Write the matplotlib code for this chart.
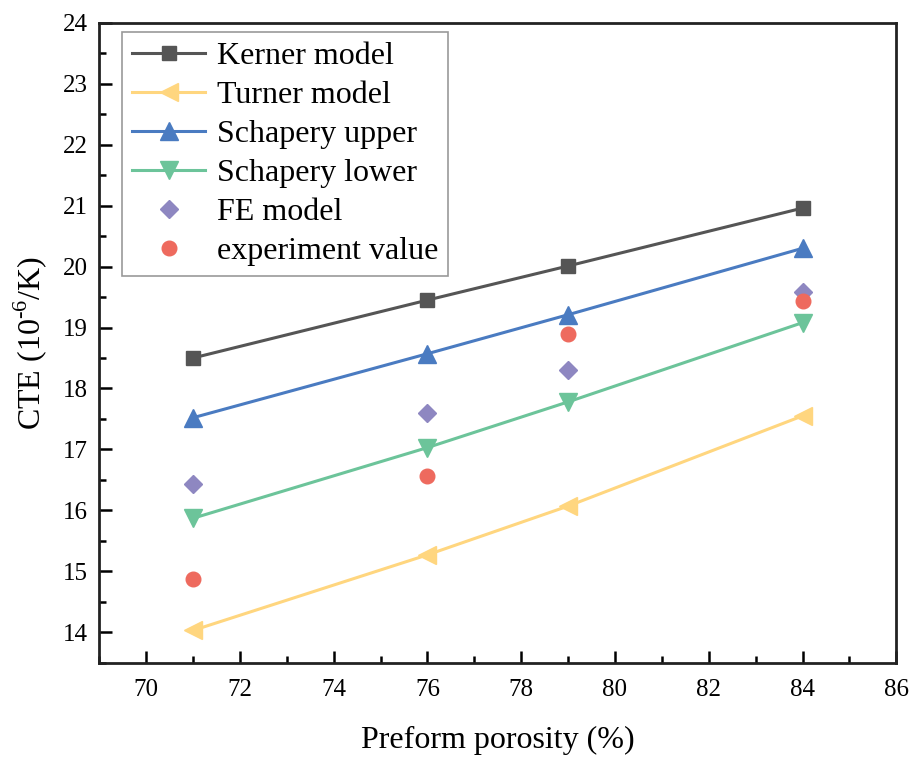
import matplotlib
matplotlib.use('Agg')
import matplotlib.pyplot as plt
from matplotlib.ticker import MultipleLocator

plt.rcParams['font.family'] = ['Liberation Serif', 'DejaVu Serif']
plt.rcParams['mathtext.fontset'] = 'custom'
plt.rcParams['mathtext.rm'] = 'Liberation Serif'

porosity = [71, 76, 79, 84]
kerner = [18.50, 19.45, 20.01, 20.96]
turner = [14.03, 15.27, 16.07, 17.55]
schapery_upper = [17.52, 18.57, 19.21, 20.30]
schapery_lower = [15.87, 17.03, 17.78, 19.08]
fe_model = [16.43, 17.60, 18.31, 19.58]
experiment = [14.87, 16.57, 18.90, 19.43]

fig = plt.figure(figsize=(9.1, 7.6), dpi=100)
ax = fig.add_axes([0.109, 0.128, 0.876, 0.842])

lw = 2.2
ax.plot(porosity, kerner, color='#555555', lw=lw, marker='s', ms=10.5, label='Kerner model')
ax.plot(porosity, turner, color='#FFD67F', lw=lw, marker='<', ms=12.5, label='Turner model')
ax.plot(porosity, schapery_upper, color='#4A7BC1', lw=lw, marker='^', ms=12.5, label='Schapery upper')
ax.plot(porosity, schapery_lower, color='#6CC49A', lw=lw, marker='v', ms=12.5, label='Schapery lower')
ax.plot(porosity, fe_model, ls='none', color='#8E87C1', marker='D', ms=9.5, label='FE model')
ax.plot(porosity, experiment, ls='none', color='#EE6A5E', marker='o', ms=10.5, label='experiment value')

ax.set_xlim(69, 86)
ax.set_ylim(13.5, 24)
ax.xaxis.set_major_locator(MultipleLocator(2))
ax.xaxis.set_minor_locator(MultipleLocator(1))
ax.yaxis.set_major_locator(MultipleLocator(1))
ax.yaxis.set_minor_locator(MultipleLocator(0.5))
ax.set_yticks([14, 15, 16, 17, 18, 19, 20, 21, 22, 23, 24])
ax.tick_params(which='both', direction='in', labelsize=18, width=1.8)
ax.tick_params(which='major', length=9)
ax.tick_params(which='minor', length=5)
ax.tick_params(axis='x', pad=12)
ax.tick_params(axis='y', pad=8)
for s in ax.spines.values():
    s.set_linewidth(2.0)
    s.set_color('#222222')

ax.set_xlabel('Preform porosity (%)', fontsize=23, labelpad=18)
ax.set_ylabel('CTE (10$^{\\text{-6}}$/K)', fontsize=23, labelpad=10)

leg = ax.legend(loc='upper left', bbox_to_anchor=(0.025, 0.99), fontsize=23,
                fancybox=False, edgecolor='#999999', framealpha=1,
                handlelength=2.3, handletextpad=0.35, labelspacing=0.3,
                borderaxespad=0.1, borderpad=0.3)
leg.get_frame().set_linewidth(1.2)

fig.savefig('out.png', dpi=100)
